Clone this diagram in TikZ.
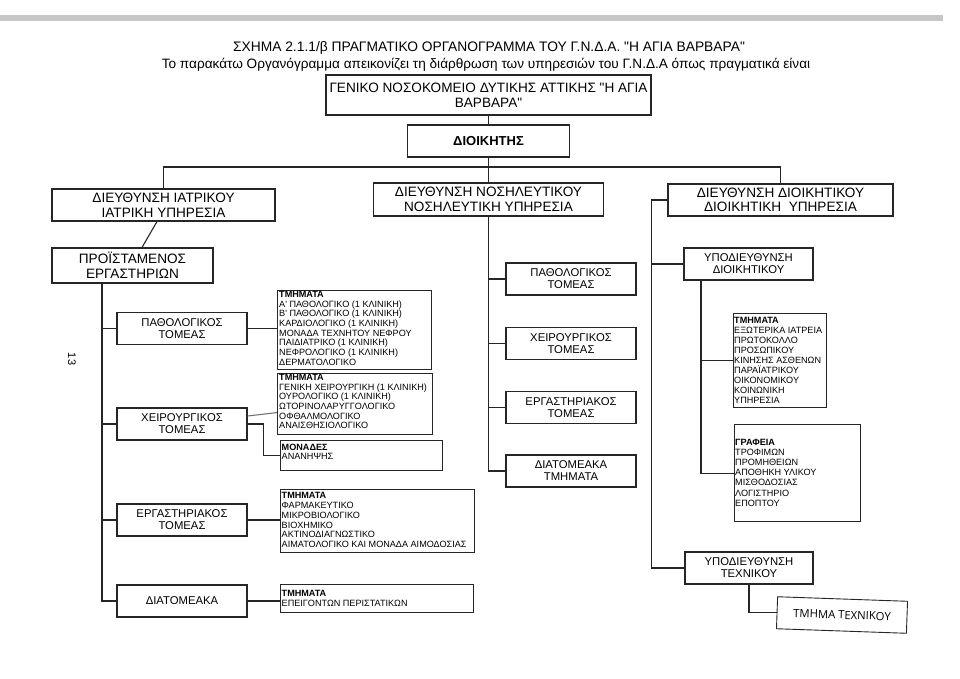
\documentclass[tikz,border=0pt]{standalone}
\usepackage{fontspec}
\setmainfont{Liberation Sans}[Ligatures=TeXOff]
\newfontfamily\handfont{Open Sans}
\usetikzlibrary{calc}
\begin{document}
\begin{tikzpicture}[x=1pt,y=-1pt,
  ln/.style={line width=1.1pt, draw=black!85},
  bx/.style={draw=black!85, line width=1.1pt, inner sep=0pt, align=center},
  big/.style={font=\fontsize{13.6}{14.5}\selectfont},
  mid/.style={font=\fontsize{11.3}{12}\selectfont},
  lst/.style={font=\fontsize{9.1}{9.7}\selectfont, align=left, inner sep=0pt, anchor=north west},
  lbox/.style={bx, anchor=north west},
  lpos/.style={bx, mid, minimum width=130pt, minimum height=32pt},
]
\useasboundingbox (0,0) rectangle (960,678);
\fill[white] (0,0) rectangle (960,678);
\fill[black!22] (0,15) rectangle (943,21);

% titles
\node[font=\fontsize{13.8}{14.5}\selectfont, inner sep=0pt, anchor=base] (t1) at (489,51) {ΣΧΗΜΑ 2.1.1/β ΠΡΑΓΜΑΤΙΚΟ ΟΡΓΑΝΟΓΡΑΜΜΑ ΤΟΥ Γ.Ν.Δ.Α. "Η ΑΓΙΑ ΒΑΡΒΑΡΑ"};
\node[big, inner sep=0pt, anchor=base] (t2) at (486,68) {Το παρακάτω Οργανόγραμμα απεικονίζει τη διάρθρωση των υπηρεσιών του Γ.Ν.Δ.Α όπως πραγματικά είναι};

% page number
\node[font=\fontsize{11}{12}\selectfont, rotate=-90, inner sep=0pt] (pg) at (72,359) {13};

% top levels
\node[bx, font=\fontsize{13.6}{15.5}\selectfont, minimum width=325pt, minimum height=40pt] (hosp) at (488.5,95) {ΓΕΝΙΚΟ ΝΟΣΟΚΟΜΕΙΟ ΔΥΤΙΚΗΣ ΑΤΤΙΚΗΣ "Η ΑΓΙΑ\\ΒΑΡΒΑΡΑ"};
\node[bx, font=\fontsize{13}{14}\selectfont\bfseries, minimum width=162pt, minimum height=32pt] (dir) at (488.5,141) {ΔΙΟΙΚΗΤΗΣ};

\node[bx, big, minimum width=223pt, minimum height=32pt] (iatr) at (163.5,205) {ΔΙΕΥΘΥΝΣΗ ΙΑΤΡΙΚΟΥ\\ΙΑΤΡΙΚΗ ΥΠΗΡΕΣΙΑ};
\node[bx, big, minimum width=230pt, minimum height=33pt] (nosil) at (488.5,199.5) {ΔΙΕΥΘΥΝΣΗ ΝΟΣΗΛΕΥΤΙΚΟΥ\\ΝΟΣΗΛΕΥΤΙΚΗ ΥΠΗΡΕΣΙΑ};
\node[bx, big, minimum width=225pt, minimum height=32pt] (dioik) at (780.5,200) {ΔΙΕΥΘΥΝΣΗ ΔΙΟΙΚΗΤΙΚΟΥ\\ΔΙΟΙΚΗΤΙΚΗ~~ΥΠΗΡΕΣΙΑ};

\node[bx, big, minimum width=161pt, minimum height=35pt] (proist) at (132.5,265.5) {ΠΡΟΪΣΤΑΜΕΝΟΣ\\ΕΡΓΑΣΤΗΡΙΩΝ};

% left column
\node[lpos] (lpath) at (182,328.5) {ΠΑΘΟΛΟΓΙΚΟΣ\\ΤΟΜΕΑΣ};
\node[lpos] (lxeir) at (182,424) {ΧΕΙΡΟΥΡΓΙΚΟΣ\\ΤΟΜΕΑΣ};
\node[lpos] (lerg) at (182,520) {ΕΡΓΑΣΤΗΡΙΑΚΟΣ\\ΤΟΜΕΑΣ};
\node[lpos] (ldiat) at (182,601) {ΔΙΑΤΟΜΕΑΚΑ};

% middle column
\node[lpos] (mpath) at (571,279) {ΠΑΘΟΛΟΓΙΚΟΣ\\ΤΟΜΕΑΣ};
\node[lpos] (mxeir) at (571,343.5) {ΧΕΙΡΟΥΡΓΙΚΟΣ\\ΤΟΜΕΑΣ};
\node[lpos] (merg) at (571,407.5) {ΕΡΓΑΣΤΗΡΙΑΚΟΣ\\ΤΟΜΕΑΣ};
\node[lpos] (mdiat) at (571,471) {ΔΙΑΤΟΜΕΑΚΑ\\ΤΜΗΜΑΤΑ};

% right column
\node[lpos, minimum width=129pt] (ypod) at (748.5,264) {ΥΠΟΔΙΕΥΘΥΝΣΗ\\ΔΙΟΙΚΗΤΙΚΟΥ};
\node[lpos, minimum width=128pt] (ytex) at (749,568) {ΥΠΟΔΙΕΥΘΥΝΣΗ\\ΤΕΧΝΙΚΟΥ};
\node[bx, line width=0.9pt, rotate=-2, minimum width=130pt, minimum height=32pt, font=\handfont\fontsize{11.3}{12}\selectfont] (tmtex) at (842,615) {ΤΜΗΜΑ ΤΕΧΝΙΚΟΥ};

% list boxes
\node[lbox, minimum width=154pt, minimum height=79pt] (tA) at (277,290) {};
\node[lst] (tAt) at ($(tA.north west)+(2,1)$) {\textbf{ΤΜΗΜΑΤΑ}\\Α' ΠΑΘΟΛΟΓΙΚΟ (1 ΚΛΙΝΙΚΗ)\\Β' ΠΑΘΟΛΟΓΙΚΟ (1 ΚΛΙΝΙΚΗ)\\ΚΑΡΔΙΟΛΟΓΙΚΟ (1 ΚΛΙΝΙΚΗ)\\ΜΟΝΑΔΑ ΤΕΧΝΗΤΟΥ ΝΕΦΡΟΥ\\ΠΑΙΔΙΑΤΡΙΚΟ (1 ΚΛΙΝΙΚΗ)\\ΝΕΦΡΟΛΟΓΙΚΟ (1 ΚΛΙΝΙΚΗ)\\ΔΕΡΜΑΤΟΛΟΓΙΚΟ};

\node[lbox, minimum width=155pt, minimum height=61pt] (tB) at (277,373) {};
\node[lst] (tBt) at ($(tB.north west)+(2,1)$) {\textbf{ΤΜΗΜΑΤΑ}\\ΓΕΝΙΚΗ ΧΕΙΡΟΥΡΓΙΚΗ (1 ΚΛΙΝΙΚΗ)\\ΟΥΡΟΛΟΓΙΚΟ (1 ΚΛΙΝΙΚΗ)\\ΩΤΟΡΙΝΟΛΑΡΥΓΓΟΛΟΓΙΚΟ\\ΟΦΘΑΛΜΟΛΟΓΙΚΟ\\ΑΝΑΙΣΘΗΣΙΟΛΟΓΙΚΟ};

\node[lbox, minimum width=162pt, minimum height=30pt] (tC) at (280,440) {};
\node[lst] (tCt) at ($(tC.north west)+(1.5,3.5)$) {\textbf{ΜΟΝΑΔΕΣ}\\ΑΝΑΝΗΨΗΣ};

\node[lbox, minimum width=194pt, minimum height=63pt] (tD) at (280,489) {};
\node[lst] (tDt) at ($(tD.north west)+(1.5,3.5)$) {\textbf{ΤΜΗΜΑΤΑ}\\ΦΑΡΜΑΚΕΥΤΙΚΟ\\ΜΙΚΡΟΒΙΟΛΟΓΙΚΟ\\ΒΙΟΧΗΜΙΚΟ\\ΑΚΤΙΝΟΔΙΑΓΝΩΣΤΙΚΟ\\ΑΙΜΑΤΟΛΟΓΙΚΟ ΚΑΙ ΜΟΝΑΔΑ ΑΙΜΟΔΟΣΙΑΣ};

\node[lbox, minimum width=193pt, minimum height=28pt] (tE) at (280,584) {};
\node[lst] (tEt) at ($(tE.north west)+(1.5,6.5)$) {\textbf{ΤΜΗΜΑΤΑ}\\ΕΠΕΙΓΟΝΤΩΝ ΠΕΡΙΣΤΑΤΙΚΩΝ};

\node[lbox, minimum width=93pt, minimum height=94pt] (tR) at (733,313) {};
\node[lst, font=\fontsize{9.1}{10}\selectfont] (tRt) at ($(tR.north west)+(1,4.5)$) {\textbf{ΤΜΗΜΑΤΑ}\\ΕΞΩΤΕΡΙΚΑ ΙΑΤΡΕΙΑ\\ΠΡΩΤΟΚΟΛΛΟ\\ΠΡΟΣΩΠΙΚΟΥ\\ΚΙΝΗΣΗΣ ΑΣΘΕΝΩΝ\\ΠΑΡΑΪΑΤΡΙΚΟΥ\\ΟΙΚΟΝΟΜΙΚΟΥ\\ΚΟΙΝΩΝΙΚΗ\\ΥΠΗΡΕΣΙΑ};

\node[lbox, minimum width=126pt, minimum height=97pt] (tG) at (734,424) {};
\node[lst, font=\fontsize{9.1}{10.2}\selectfont] (tGt) at ($(tG.north west)+(1,14.5)$) {\textbf{ΓΡΑΦΕΙΑ}\\ΤΡΟΦΙΜΩΝ\\ΠΡΟΜΗΘΕΙΩΝ\\ΑΠΟΘΗΚΗ ΥΛΙΚΟΥ\\ΜΙΣΘΟΔΟΣΙΑΣ\\ΛΟΓΙΣΤΗΡΙΟ\\ΕΠΟΠΤΟΥ};

% connectors: top
\coordinate (bus) at (488.5,167);
\draw[ln] (hosp.south) -- (dir.north);
\draw[ln] (dir.south) -- (nosil.north);
\draw[ln] (iatr.north) |- (dioik.north |- bus) -- (dioik.north);
\draw[ln] ([xshift=-6.5pt]iatr.south) -- ([xshift=9.5pt]proist.north);

% left branch
\coordinate (lv) at ([xshift=-30.5pt]proist.south);
\draw[ln] (lv) |- (ldiat.west);
\draw[ln] (lv |- lpath.west) -- (lpath.west);
\draw[ln] (lv |- lxeir.west) -- (lxeir.west);
\draw[ln] (lv |- lerg.west) -- (lerg.west);

\draw[ln] (lpath.east) -- (lpath.east -| tA.west);
\draw[line width=1.1pt, draw=black!55] ([yshift=8pt]lxeir.east) -- ([yshift=-8.5pt]tB.west);
\draw[ln] (lxeir.east) -- ++(16,0) |- (tC.west);
\draw[ln] (lerg.east) -- (lerg.east -| tD.west);
\draw[ln] (ldiat.east) -- (ldiat.east -| tE.west);

% middle branch
\draw[ln] (nosil.south) |- (mdiat.west);
\draw[ln] (nosil.south |- mpath.west) -- (mpath.west);
\draw[ln] (nosil.south |- mxeir.west) -- (mxeir.west);
\draw[ln] (nosil.south |- merg.west) -- (merg.west);

% right branch
\draw[ln] (dioik.west) -- ++(-16,0) coordinate (rv) |- (ytex.west);
\draw[ln] (rv |- ypod.west) -- (ypod.west);
\coordinate (yv) at ([xshift=-47.5pt]ypod.south);
\draw[ln] (yv) |- (tG.west);
\draw[ln] (yv |- tR.west) -- (tR.west);
\draw[ln] (ytex.south) |- (tmtex.west);
\end{tikzpicture}
\end{document}
